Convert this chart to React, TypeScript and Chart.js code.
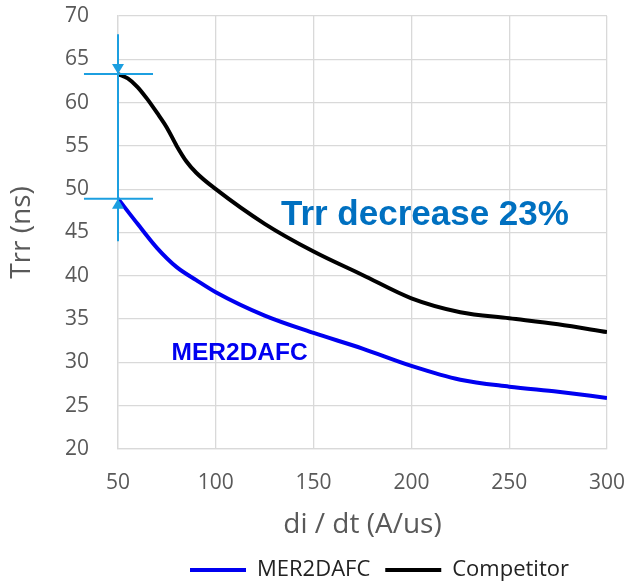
import React, { useEffect, useRef } from "react";
import { Chart, registerables } from "chart.js";

Chart.register(...registerables);

// ---- data ----
const competitorX = [50, 55, 60, 65, 70, 75, 80, 85, 90, 100, 125, 150, 175, 200, 225, 250, 275, 300];
const competitorY = [63.3, 62.8, 61.8, 60.4, 58.8, 57.1, 55.0, 53.2, 51.9, 50.0, 46.0, 42.8, 40.1, 37.4, 35.8, 35.1, 34.4, 33.5];
const merX = [50, 60, 70, 80, 90, 100, 125, 150, 175, 200, 225, 250, 275, 300];
const merY = [48.9, 46.0, 43.2, 41.0, 39.5, 38.1, 35.4, 33.4, 31.6, 29.6, 28.0, 27.2, 26.6, 25.9];

const seriesNames = ["MER2DAFC", "Competitor"];
const xTitle = "di / dt (A/us)";
const yTitle = "Trr (ns)";

// annotation values (data units)
const arrowX = 50;
const arrowSpan = [67.9, 44.0];
const markLevels = [63.3, 48.9];
const markXRange = [32.6, 67.9];
const decreaseLabel = "Trr decrease 23%";
const decreasePos = [133.3, 47.0];
const merLabel = "MER2DAFC";
const merLabelPos = [77.4, 31.0];

const BLUE = "#0000f0";
const ARROW = "#1c9fe0";
const GRID = "#d9d9d9";
const TICK = "#595959";

const annotationPlugin = {
  id: "trrAnnotations",
  afterLayout(chart: any) {
    const lg = chart.legend;
    if (lg) {
      lg.left += 17;
      lg.right += 17;
      lg.top += 8;
      lg.bottom += 8;
    }
  },
  afterDatasetsDraw(chart: any) {
    const { ctx } = chart;
    const x = chart.scales.x;
    const y = chart.scales.y;
    ctx.save();
    const ax = x.getPixelForValue(arrowX);
    ctx.strokeStyle = ARROW;
    ctx.fillStyle = ARROW;
    ctx.lineWidth = 2;
    ctx.beginPath();
    ctx.moveTo(ax, y.getPixelForValue(arrowSpan[0]));
    ctx.lineTo(ax, y.getPixelForValue(arrowSpan[1]));
    ctx.stroke();
    const x0 = x.getPixelForValue(markXRange[0]);
    const x1 = x.getPixelForValue(markXRange[1]);
    markLevels.forEach((lv) => {
      const py = y.getPixelForValue(lv);
      ctx.beginPath();
      ctx.moveTo(x0, py);
      ctx.lineTo(x1, py);
      ctx.stroke();
    });
    const pUp = y.getPixelForValue(markLevels[0]);
    ctx.beginPath();
    ctx.moveTo(ax, pUp);
    ctx.lineTo(ax - 6, pUp - 10);
    ctx.lineTo(ax + 6, pUp - 10);
    ctx.closePath();
    ctx.fill();
    const pLo = y.getPixelForValue(markLevels[1]);
    ctx.beginPath();
    ctx.moveTo(ax, pLo);
    ctx.lineTo(ax - 6, pLo + 10);
    ctx.lineTo(ax + 6, pLo + 10);
    ctx.closePath();
    ctx.fill();

    ctx.textBaseline = "middle";
    ctx.textAlign = "left";
    ctx.font = "bold 35px 'Liberation Sans', Arial, sans-serif";
    ctx.fillStyle = "#0070c0";
    ctx.fillText(decreaseLabel, x.getPixelForValue(decreasePos[0]), y.getPixelForValue(decreasePos[1]));
    ctx.font = "bold 24.5px 'Liberation Sans', Arial, sans-serif";
    ctx.fillStyle = BLUE;
    ctx.fillText(merLabel, x.getPixelForValue(merLabelPos[0]), y.getPixelForValue(merLabelPos[1]));
    ctx.restore();
  },
};

const noPad = (scale: any) => {
  scale.paddingTop = 0;
  scale.paddingBottom = 0;
  scale.paddingLeft = 0;
  scale.paddingRight = 0;
};

export default function App() {
  const ref = useRef<HTMLCanvasElement>(null);
  useEffect(() => {
    if (!ref.current) return;
    const chart = new Chart(ref.current, {
      type: "line",
      data: {
        datasets: [
          {
            label: seriesNames[0],
            data: merX.map((v, i) => ({ x: v, y: merY[i] })),
            borderColor: BLUE,
            backgroundColor: BLUE,
            borderWidth: 4,
            pointRadius: 0,
            cubicInterpolationMode: "monotone",
          },
          {
            label: seriesNames[1],
            data: competitorX.map((v, i) => ({ x: v, y: competitorY[i] })),
            borderColor: "#000000",
            backgroundColor: "#000000",
            borderWidth: 4,
            pointRadius: 0,
            cubicInterpolationMode: "monotone",
          },
        ],
      },
      options: {
        responsive: false,
        animation: false,
        layout: { padding: { left: 0, top: 16, right: 17, bottom: 0 } },
        scales: {
          x: {
            type: "linear",
            min: 50,
            max: 300,
            ticks: {
              stepSize: 50,
              color: TICK,
              font: { family: "'Open Sans'", size: 21 },
              padding: 21,
            },
            grid: { color: GRID, lineWidth: 1.3, drawTicks: false },
            border: { display: true, color: GRID, width: 1.3 },
            title: {
              display: true,
              text: xTitle,
              color: TICK,
              font: { family: "'Open Sans'", size: 28, lineHeight: 1 },
              padding: { top: 0, bottom: -3 },
            },
            afterFit(scale: any) {
              scale.height = 87;
              noPad(scale);
            },
          },
          y: {
            min: 20,
            max: 70,
            ticks: {
              stepSize: 5,
              color: TICK,
              font: { family: "'Open Sans'", size: 21 },
              padding: 29,
            },
            grid: { color: GRID, lineWidth: 1.3, drawTicks: false },
            border: { display: true, color: GRID, width: 1.3 },
            title: {
              display: true,
              text: yTitle,
              color: TICK,
              font: { family: "'Open Sans'", size: 28, lineHeight: 1 },
              padding: { top: 8, bottom: 0 },
            },
            afterFit(scale: any) {
              scale.width = 118;
              noPad(scale);
            },
          },
        },
        plugins: {
          legend: {
            position: "bottom",
            fullSize: false,
            labels: {
              boxWidth: 56,
              boxHeight: 4,
              padding: 15,
              color: "#222222",
              font: { family: "'Open Sans'", size: 22 },
              generateLabels: (c: any) =>
                Chart.defaults.plugins.legend.labels
                  .generateLabels(c)
                  .map((it: any) => ({ ...it, lineWidth: 0, fillStyle: it.strokeStyle })),
            },
          },
          tooltip: { enabled: false },
        },
      },
      plugins: [annotationPlugin],
    });
    return () => chart.destroy();
  }, []);
  return (
    <div style={{ position: "fixed", left: 0, top: 0, width: 624, height: 583, background: "#fff" }}>
      <canvas ref={ref} width={624} height={583} style={{ width: 624, height: 583, display: "block" }} />
    </div>
  );
}
